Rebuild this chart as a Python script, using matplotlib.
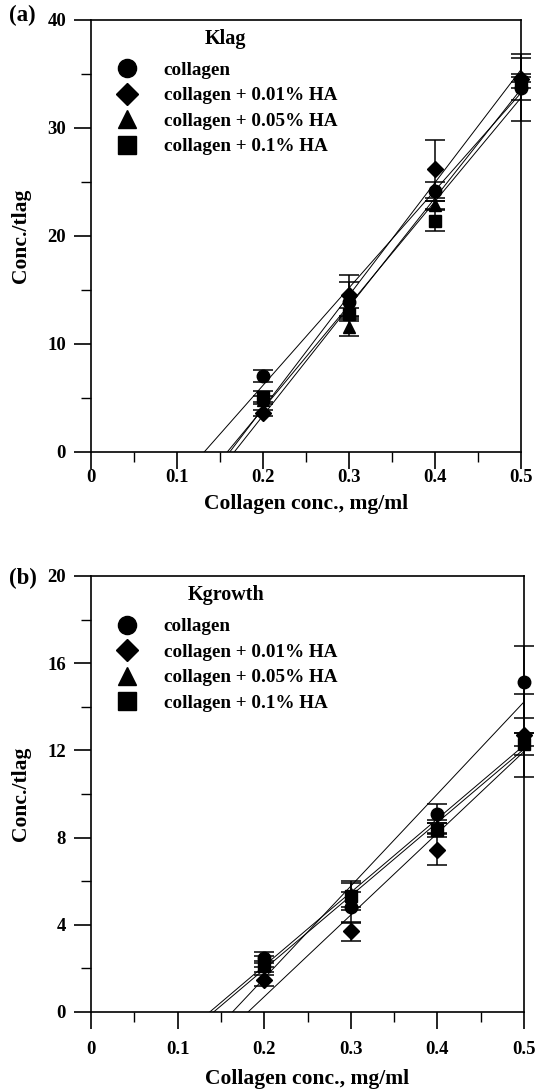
import numpy as np
import matplotlib
matplotlib.use("Agg")
import matplotlib.pyplot as plt
from matplotlib.ticker import MultipleLocator
from matplotlib.lines import Line2D

plt.rcParams['font.family'] = ['Liberation Serif', 'DejaVu Serif']
plt.rcParams['font.weight'] = 'bold'

# daten
conc = [0.2, 0.3, 0.4, 0.5]
labels = ["collagen", "collagen + 0.01% HA", "collagen + 0.05% HA", "collagen + 0.1% HA"]
markers = ["o", "D", "^", "s"]

# (a) Klag
klag_coll = [7.05, 13.9, 24.1, 33.7]
klag_ha001 = [3.6, 14.5, 26.2, 34.5]
klag_ha005 = [4.8, 11.6, 22.85, 34.6]
klag_ha01 = [5.1, 12.8, 21.4, 34.2]
klag_err_coll = [0.55, 1.8, 0.9, 3.1]
klag_err_ha001 = [0.3, 1.9, 2.7, 1.9]
klag_err_ha005 = [0.4, 0.9, 0.4, 0.4]
klag_err_ha01 = [0.5, 0.5, 1.0, 0.5]

# (b) Kgrowth
kgr_coll = [2.5, 4.8, 9.1, 15.15]
kgr_ha001 = [1.45, 3.7, 7.45, 12.7]
kgr_ha005 = [2.3, 5.4, 8.5, 12.5]
kgr_ha01 = [2.1, 5.3, 8.35, 12.3]
kgr_err_coll = [0.25, 0.7, 0.45, 1.65]
kgr_err_ha001 = [0.25, 0.45, 0.7, 1.9]
kgr_err_ha005 = [0.25, 0.6, 0.3, 0.3]
kgr_err_ha01 = [0.25, 0.6, 0.3, 0.5]


def markergroesse(m):
    return 8 if m == "D" else 9


def panel(ax, serien, fehler, titel, ymax, ymajor, yminor, tickpad, xlabpad):
    x = np.array(conc)
    for y, e, m in zip(serien, fehler, markers):
        ax.errorbar(x, y, yerr=e, fmt=m, color="black", ms=markergroesse(m), capsize=7,
                    elinewidth=1.1, capthick=1.1, clip_on=False, zorder=3)
        # regressionsgerade bis y=0
        k, d = np.polyfit(x, y, 1)
        xx = np.array([-d / k, 0.5])
        ax.plot(xx, k * xx + d, color="black", lw=0.7, zorder=2)
    ax.set_xlim(0, 0.5)
    ax.set_ylim(0, ymax)
    ax.set_xticks([0, 0.1, 0.2, 0.3, 0.4, 0.5])
    ax.set_xticklabels(["0", "0.1", "0.2", "0.3", "0.4", "0.5"])
    ax.xaxis.set_minor_locator(MultipleLocator(0.05))
    ax.yaxis.set_major_locator(MultipleLocator(ymajor))
    ax.yaxis.set_minor_locator(MultipleLocator(yminor))
    ax.tick_params(which="major", direction="out", length=12, width=1.2, labelsize=13.5, pad=6)
    ax.tick_params(axis="x", which="major", pad=tickpad)
    ax.tick_params(which="minor", direction="out", length=7, width=1.0)
    for s in ax.spines.values():
        s.set_linewidth(1.2)
    ax.set_xlabel("Collagen conc., mg/ml", fontsize=15.5, fontweight="bold", labelpad=xlabpad)
    ax.set_ylabel("Conc./tlag", fontsize=15.5, fontweight="bold", labelpad=12)

    # legende nur mit markern
    handles = [Line2D([], [], ls="none", marker=m, color="black",
                      ms=markergroesse(m) * 1.45) for m in markers]
    leg = ax.legend(handles, labels, loc="upper left", bbox_to_anchor=(0.022, 1.009),
                    frameon=False, title=titel, fontsize=13.8, handletextpad=1.2,
                    handlelength=1.4, labelspacing=0.42, borderpad=0.2)
    leg.get_title().set_fontsize(14.5)
    leg.get_title().set_fontweight("bold")
    leg._legend_box.sep = 9


fig = plt.figure(figsize=(5.37, 10.92), dpi=100)
ax1 = fig.add_axes([91 / 537, 1 - 452 / 1092, 430 / 537, 432.5 / 1092])
ax2 = fig.add_axes([91 / 537, 1 - 1012 / 1092, 433 / 537, 436 / 1092])

panel(ax1, [klag_coll, klag_ha001, klag_ha005, klag_ha01],
      [klag_err_coll, klag_err_ha001, klag_err_ha005, klag_err_ha01], "Klag", 40, 10, 5, 0, 6)
panel(ax2, [kgr_coll, kgr_ha001, kgr_ha005, kgr_ha01],
      [kgr_err_coll, kgr_err_ha001, kgr_err_ha005, kgr_err_ha01], "Kgrowth", 20, 4, 2, 9, 8)

fig.text(9 / 537, 1 - 15 / 1092, "(a)", fontsize=16.5, fontweight="bold", va="center")
fig.text(9 / 537, 1 - 578 / 1092, "(b)", fontsize=16.5, fontweight="bold", va="center")

fig.savefig("out.png", dpi=100)
